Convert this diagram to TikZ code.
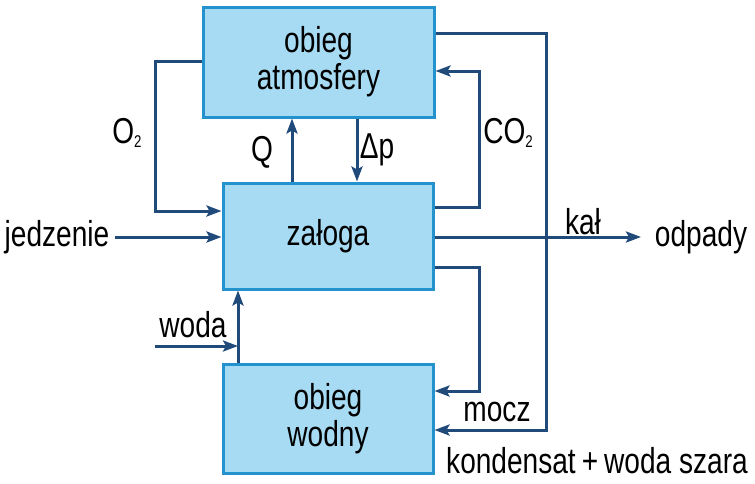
\documentclass[tikz,border=0pt]{standalone}
\usepackage{fontspec}
\setmainfont{Liberation Sans}[FakeStretch=0.78]
\usetikzlibrary{arrows.meta,calc}
\definecolor{boxfill}{RGB}{166,219,243}
\definecolor{boxline}{RGB}{35,146,205}
\definecolor{conn}{RGB}{31,74,122}
\newcommand{\subtwo}{\raisebox{-0.12em}{\fontsize{17}{17}\selectfont 2}}
\begin{document}
\begin{tikzpicture}[x=1pt,y=-1pt,
  blk/.style={draw=boxline,fill=boxfill,line width=3pt,align=center,inner sep=0pt,
    font=\fontsize{36}{37}\selectfont},
  lbl/.style={font=\fontsize{36}{37}\selectfont,inner sep=0pt,text=black},
  con/.style={draw=conn,line width=3pt},
  arr/.style={con,-{Stealth[length=15pt,width=11pt,inset=3pt]}}]
\useasboundingbox (0,0) rectangle (755,483);
\node[blk,minimum width=231pt,minimum height=110pt] (atm) at (318.5,62) {obieg\\atmosfery};
\node[blk,minimum width=210pt,minimum height=106pt] (zal) at (328,236) {załoga};
\node[blk,minimum width=210pt,minimum height=109pt] (wod) at (328,418.5) {obieg\\wodny};
% coordinates for line routing
\coordinate (o2x) at (155,0);
\coordinate (qx) at (292,0);
\coordinate (dpx) at (357,0);
\coordinate (co2x) at (479,0);
\coordinate (bigx) at (546,0);
\coordinate (jedz) at (115,237);
\coordinate (kalend) at (641,237);
\coordinate (wodin) at (155,346);
\coordinate (wodx) at (238,0);
% O2
\draw[arr] (atm.west |- 0,61) -- (o2x |- 0,61) -- (o2x |- 0,211) -- (zal.west |- 0,211);
% jedzenie
\draw[arr] (jedz) -- (zal.west |- jedz);
% Q and dp
\draw[arr] (qx |- zal.north) -- (qx |- atm.south);
\draw[arr] (dpx |- atm.south) -- (dpx |- zal.north);
% CO2
\draw[arr] (zal.east |- 0,207) -- (co2x |- 0,207) -- (co2x |- 0,71) -- (atm.east |- 0,71);
% big loop: kondensat + woda szara
\draw[arr] (atm.east |- 0,33) -- (bigx |- 0,33) -- (bigx |- 0,430) -- (wod.east |- 0,430);
% kal
\draw[arr] (zal.east |- kalend) -- (kalend);
% mocz
\draw[arr] (zal.east |- 0,267) -- (co2x |- 0,267) -- (co2x |- 0,391) -- (wod.east |- 0,391);
% woda
\draw[arr] (wodx |- wod.north) -- (wodx |- zal.south);
\draw[arr] (wodin) -- (wodx |- wodin);
% labels
\node[lbl] (lo2) at (127,133) {O\subtwo};
\node[lbl] (lq) at (262,152) {Q};
\node[lbl] (ldp) at (377,150) {Δp};
\node[lbl] (lco2) at (508,133) {CO\subtwo};
\node[lbl] (lkal) at (583,222) {kał};
\node[lbl] (lodp) at (701,237) {odpady};
\node[lbl] (ljedz) at (57,237) {jedzenie};
\node[lbl] (lwoda) at (193,325) {woda};
\node[lbl] (lmocz) at (497,412) {mocz};
\node[lbl] (lkond) at (597,461) {kondensat\,+\,woda szara};
\end{tikzpicture}
\end{document}
